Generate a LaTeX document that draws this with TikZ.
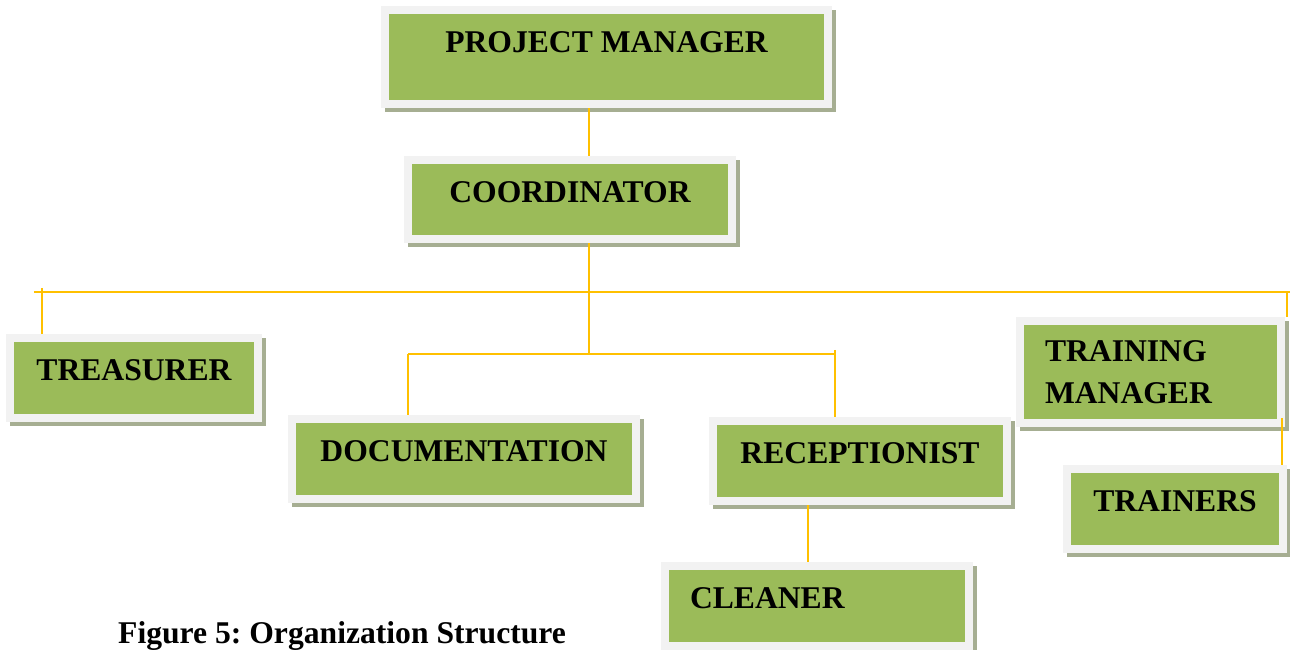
\documentclass[tikz,border=0pt]{standalone}
\usepackage{fontspec}
\setmainfont{Liberation Serif}
\usetikzlibrary{calc,shadows}

\definecolor{postgreen}{HTML}{9BBB59}
\definecolor{postframe}{HTML}{F2F2F2}
\definecolor{postshadow}{RGB}{166,174,146}
\definecolor{linkorange}{HTML}{FFC000}

\begin{document}
\frenchspacing
\begin{tikzpicture}[
  font=\fontsize{18}{24}\selectfont\bfseries,
  post/.style={rectangle, fill=postframe, inner sep=0pt,
    drop shadow={shadow xshift=0.07cm, shadow yshift=-0.09cm, fill=postshadow, opacity=1},
    path picture={\fill[postgreen] ($(path picture bounding box.south west)+(0.16,0.16)$)
      rectangle ($(path picture bounding box.north east)-(0.16,0.16)$);}},
  raised/.style={text height=0.5cm, text depth=0.38cm},
  link/.style={draw=linkorange, line width=0.8pt},
]
  \useasboundingbox (0,0) rectangle (25.8,13);

  % posts
  \node[post, raised, minimum width=9.02cm, minimum height=2.04cm, text depth=0.68cm] (pm) at (12.13,11.86) {PROJECT MANAGER};
  \node[post, raised, minimum width=6.64cm, minimum height=1.74cm] (coord) at (11.40,9.01) {COORDINATOR};
  \node[post, raised, minimum width=5.12cm, minimum height=1.76cm] (treas) at (2.68,5.44) {TREASURER};
  \node[post, raised, minimum width=7.04cm, minimum height=1.76cm] (doc) at (9.28,3.82) {DOCUMENTATION};
  \node[post, raised, minimum width=6.04cm, minimum height=1.76cm] (recep) at (17.20,3.78) {RECEPTIONIST};
  \node[post, minimum width=5.38cm, minimum height=2.2cm, text width=4.22cm, inner xsep=0.58cm, align=left] (tm) at (23.01,5.56) {TRAINING\\MANAGER};
  \node[post, raised, minimum width=4.48cm, minimum height=1.76cm] (train) at (23.50,2.82) {TRAINERS};
  \node[post, raised, minimum width=6.24cm, minimum height=1.76cm, text width=5.08cm, inner xsep=0.58cm, align=left] (clean) at (16.34,0.88) {CLEANER};

  \node[anchor=base west] (caption) at (2.24,0.12) {Figure 5: Organization Structure};

  % trunk and buses
  \coordinate (spine) at (11.78,7.16);
  \coordinate (bus west) at (0.68,7.16);
  \coordinate (bus east) at (25.80,7.16);
  \coordinate (treas tick) at (0.84,7.24);
  \coordinate (tm tick) at (25.74,7.16);
  \coordinate (sub bus) at (11.78,5.92);
  \coordinate (sub west) at (8.16,5.92);
  \coordinate (sub east) at (16.70,5.92);
  \coordinate (sub east top) at (16.70,6.00);
  \coordinate (tm drop) at (25.64,4.64);
  \coordinate (clean drop) at (16.16,3.0);

  \draw[link] (pm.south -| spine) -- (coord.north -| spine);
  \draw[link] (coord.south -| spine) -- (sub bus);
  \draw[link] (bus west) -- (bus east);
  \draw[link] (treas tick) -- (treas tick |- treas.north);
  \draw[link] (tm tick) -- (tm tick |- tm.north);
  \draw[link] (sub west) -- (sub east);
  \draw[link] (sub west) -- (sub west |- doc.north);
  \draw[link] (sub east top) -- (sub east top |- recep.north);
  \draw[link] (tm drop) -- (tm drop |- train.north);
  \draw[link] (clean drop |- recep.south) -- (clean drop |- clean.north);
\end{tikzpicture}
\end{document}
